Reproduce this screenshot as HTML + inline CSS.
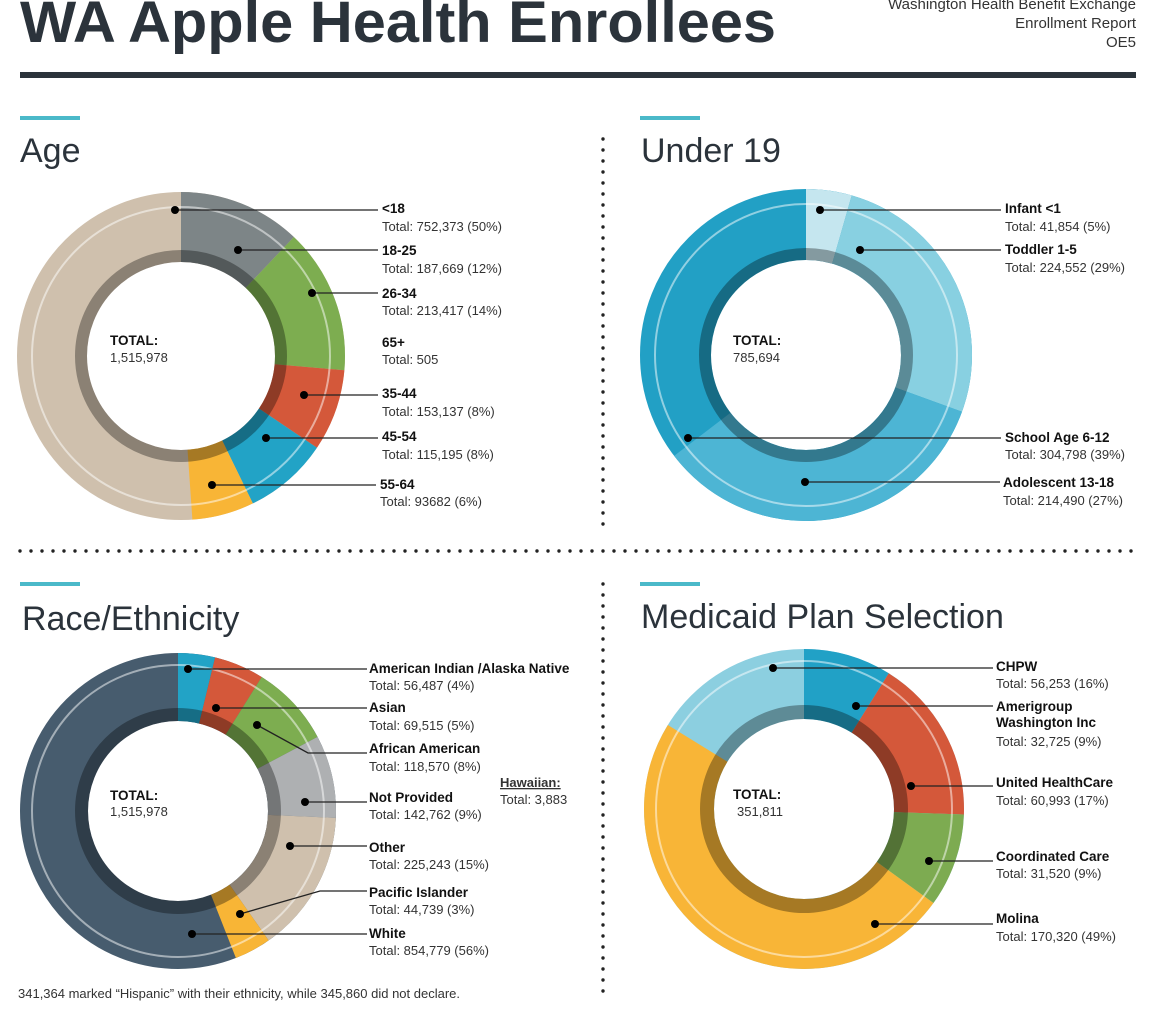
<!DOCTYPE html>
<html><head><meta charset="utf-8"><style>
html,body{margin:0;padding:0;background:#fff}
svg{display:block}
text{font-family:"Liberation Sans",sans-serif;fill:#222}
.b{font-weight:bold;font-size:13.5px;fill:#111}
.n{font-size:13px;fill:#333}
.t{font-size:34px;fill:#2b333b}
.ln{stroke:#222;stroke-width:1.3;fill:none}
.dot{stroke:#222;stroke-width:3.4;stroke-linecap:round;stroke-dasharray:0 11;fill:none}
</style></head><body>
<svg width="1152" height="1009" viewBox="0 0 1152 1009" xmlns="http://www.w3.org/2000/svg">
<!-- header -->
<text x="20" y="42" font-size="58" font-weight="bold" style="fill:#2b333b" textLength="756" lengthAdjust="spacingAndGlyphs">WA Apple Health Enrollees</text>
<text x="1136" y="9" text-anchor="end" font-size="15" style="fill:#333">Washington Health Benefit Exchange</text>
<text x="1136" y="28" text-anchor="end" font-size="15" style="fill:#333">Enrollment Report</text>
<text x="1136" y="47" text-anchor="end" font-size="15" style="fill:#333">OE5</text>
<rect x="20" y="72" width="1116" height="6" fill="#2b333b"/>
<!-- accents -->
<rect x="20" y="116" width="60" height="4" fill="#4bb9c9"/>
<rect x="640" y="116" width="60" height="4" fill="#4bb9c9"/>
<rect x="20" y="582" width="60" height="4" fill="#4bb9c9"/>
<rect x="640" y="582" width="60" height="4" fill="#4bb9c9"/>
<text x="20" y="162" class="t">Age</text>
<text x="641" y="162" class="t">Under 19</text>
<text x="22" y="630" class="t">Race/Ethnicity</text>
<text x="641" y="628" class="t">Medicaid Plan Selection</text>
<!-- dotted separators -->
<path class="dot" d="M603 139V530"/>
<path class="dot" d="M603 584V1000"/>
<path class="dot" d="M20 551H1138"/>

<!-- AGE donut -->
<g transform="rotate(-90 181 356)" fill="none" stroke-width="70">
<circle cx="181" cy="356" r="129" pathLength="360" stroke="#cfc0ad"/>
<circle cx="181" cy="356" r="129" pathLength="360" stroke="#7d8587" stroke-dasharray="43.5 400"/>
<circle cx="181" cy="356" r="129" pathLength="360" stroke="#7dad50" stroke-dasharray="51.5 400" stroke-dashoffset="-43.5"/>
<circle cx="181" cy="356" r="129" pathLength="360" stroke="#d4583a" stroke-dasharray="29 400" stroke-dashoffset="-95"/>
<circle cx="181" cy="356" r="129" pathLength="360" stroke="#22a3c6" stroke-dasharray="30 400" stroke-dashoffset="-124"/>
<circle cx="181" cy="356" r="129" pathLength="360" stroke="#f8b536" stroke-dasharray="22 400" stroke-dashoffset="-154"/>
</g>
<circle cx="181" cy="356" r="100" fill="none" stroke="#000" stroke-opacity="0.33" stroke-width="12"/>
<circle cx="181" cy="356" r="149" fill="none" stroke="#fff" stroke-opacity="0.5" stroke-width="2"/>
<text x="110" y="345" class="b">TOTAL:</text><text x="110" y="362" class="n">1,515,978</text>

<!-- UNDER19 donut -->
<g transform="rotate(-90 806 355)" fill="none" stroke-width="71">
<circle cx="806" cy="355" r="130.5" pathLength="360" stroke="#22a0c5"/>
<circle cx="806" cy="355" r="130.5" pathLength="360" stroke="#c5e6ef" stroke-dasharray="16 400"/>
<circle cx="806" cy="355" r="130.5" pathLength="360" stroke="#88d0e1" stroke-dasharray="94 400" stroke-dashoffset="-16"/>
<circle cx="806" cy="355" r="130.5" pathLength="360" stroke="#4db5d4" stroke-dasharray="122.6 400" stroke-dashoffset="-110"/>
</g>
<circle cx="806" cy="355" r="101" fill="none" stroke="#000" stroke-opacity="0.33" stroke-width="12"/>
<circle cx="806" cy="355" r="151" fill="none" stroke="#fff" stroke-opacity="0.5" stroke-width="2"/>
<text x="733" y="345" class="b">TOTAL:</text><text x="733" y="362" class="n">785,694</text>

<!-- RACE donut -->
<g transform="rotate(-90 178 811)" fill="none" stroke-width="68">
<circle cx="178" cy="811" r="124" pathLength="360" stroke="#475c6e"/>
<circle cx="178" cy="811" r="124" pathLength="360" stroke="#22a3c6" stroke-dasharray="13.6 400"/>
<circle cx="178" cy="811" r="124" pathLength="360" stroke="#d4583a" stroke-dasharray="18.4 400" stroke-dashoffset="-13.6"/>
<circle cx="178" cy="811" r="124" pathLength="360" stroke="#7dad50" stroke-dasharray="30 400" stroke-dashoffset="-32"/>
<circle cx="178" cy="811" r="124" pathLength="360" stroke="#aeb0b2" stroke-dasharray="30.5 400" stroke-dashoffset="-62"/>
<circle cx="178" cy="811" r="124" pathLength="360" stroke="#cfc0ad" stroke-dasharray="52.5 400" stroke-dashoffset="-92.5"/>
<circle cx="178" cy="811" r="124" pathLength="360" stroke="#f8b536" stroke-dasharray="13.5 400" stroke-dashoffset="-145"/>
</g>
<circle cx="178" cy="811" r="96.5" fill="none" stroke="#000" stroke-opacity="0.33" stroke-width="13"/>
<circle cx="178" cy="811" r="146" fill="none" stroke="#fff" stroke-opacity="0.5" stroke-width="2"/>
<text x="110" y="800" class="b">TOTAL:</text><text x="110" y="816" class="n">1,515,978</text>

<!-- MEDICAID donut -->
<g transform="rotate(-90 804 809)" fill="none" stroke-width="70">
<circle cx="804" cy="809" r="125" pathLength="360" stroke="#8ccfe0"/>
<circle cx="804" cy="809" r="125" pathLength="360" stroke="#21a1c6" stroke-dasharray="32 400"/>
<circle cx="804" cy="809" r="125" pathLength="360" stroke="#d4583a" stroke-dasharray="60 400" stroke-dashoffset="-32"/>
<circle cx="804" cy="809" r="125" pathLength="360" stroke="#7dab51" stroke-dasharray="34 400" stroke-dashoffset="-92"/>
<circle cx="804" cy="809" r="125" pathLength="360" stroke="#f8b537" stroke-dasharray="175.7 400" stroke-dashoffset="-126"/>
</g>
<circle cx="804" cy="809" r="97" fill="none" stroke="#000" stroke-opacity="0.33" stroke-width="14"/>
<circle cx="804" cy="809" r="148" fill="none" stroke="#fff" stroke-opacity="0.5" stroke-width="2"/>
<text x="733" y="799" class="b">TOTAL:</text><text x="737" y="816" class="n">351,811</text>

<!-- AGE labels -->
<g>
<path class="ln" d="M175 210H378M238 250H378M312 293H378M304 395H378M266 438H378M212 485H376"/>
<g fill="#000"><circle cx="175" cy="210" r="4"/><circle cx="238" cy="250" r="4"/><circle cx="312" cy="293" r="4"/><circle cx="304" cy="395" r="4"/><circle cx="266" cy="438" r="4"/><circle cx="212" cy="485" r="4"/></g>
<text x="382" y="213" class="b">&lt;18</text><text x="382" y="231" class="n">Total: 752,373 (50%)</text>
<text x="382" y="255" class="b">18-25</text><text x="382" y="273" class="n">Total: 187,669 (12%)</text>
<text x="382" y="298" class="b">26-34</text><text x="382" y="315" class="n">Total: 213,417 (14%)</text>
<text x="382" y="347" class="b">65+</text><text x="382" y="364" class="n">Total: 505</text>
<text x="382" y="398" class="b">35-44</text><text x="382" y="416" class="n">Total: 153,137 (8%)</text>
<text x="382" y="441" class="b">45-54</text><text x="382" y="459" class="n">Total: 115,195 (8%)</text>
<text x="380" y="489" class="b">55-64</text><text x="380" y="506" class="n">Total: 93682 (6%)</text>
</g>
<!-- UNDER19 labels -->
<g>
<path class="ln" d="M820 210H1001M860 250H1001M688 438H1001M805 482H1000"/>
<g fill="#000"><circle cx="820" cy="210" r="4"/><circle cx="860" cy="250" r="4"/><circle cx="688" cy="438" r="4"/><circle cx="805" cy="482" r="4"/></g>
<text x="1005" y="213" class="b">Infant &lt;1</text><text x="1005" y="231" class="n">Total: 41,854 (5%)</text>
<text x="1005" y="254" class="b">Toddler 1-5</text><text x="1005" y="272" class="n">Total: 224,552 (29%)</text>
<text x="1005" y="442" class="b">School Age 6-12</text><text x="1005" y="459" class="n">Total: 304,798 (39%)</text>
<text x="1003" y="487" class="b">Adolescent 13-18</text><text x="1003" y="505" class="n">Total: 214,490 (27%)</text>
</g>
<!-- RACE labels -->
<g>
<path class="ln" d="M188 669H367M216 708H367M257 725L308 753H367M305 802H367M290 846H367M240 914L320 891H367M192 934H367"/>
<g fill="#000"><circle cx="188" cy="669" r="4"/><circle cx="216" cy="708" r="4"/><circle cx="257" cy="725" r="4"/><circle cx="305" cy="802" r="4"/><circle cx="290" cy="846" r="4"/><circle cx="240" cy="914" r="4"/><circle cx="192" cy="934" r="4"/></g>
<text x="369" y="673" class="b">American Indian /Alaska Native</text><text x="369" y="690" class="n">Total: 56,487 (4%)</text>
<text x="369" y="712" class="b">Asian</text><text x="369" y="730" class="n">Total: 69,515 (5%)</text>
<text x="369" y="753" class="b">African American</text><text x="369" y="771" class="n">Total: 118,570 (8%)</text>
<text x="369" y="802" class="b">Not Provided</text><text x="369" y="819" class="n">Total: 142,762 (9%)</text>
<text x="369" y="852" class="b">Other</text><text x="369" y="869" class="n">Total: 225,243 (15%)</text>
<text x="369" y="897" class="b">Pacific Islander</text><text x="369" y="914" class="n">Total: 44,739 (3%)</text>
<text x="369" y="938" class="b">White</text><text x="369" y="955" class="n">Total: 854,779 (56%)</text>
<text x="500" y="787" class="b" text-decoration="underline" style="font-size:13px;fill:#333">Hawaiian:</text>
<text x="500" y="804" class="n">Total: 3,883</text>
</g>
<!-- MEDICAID labels -->
<g>
<path class="ln" d="M773 668H993M856 706H993M911 786H993M929 861H993M875 924H993"/>
<g fill="#000"><circle cx="773" cy="668" r="4"/><circle cx="856" cy="706" r="4"/><circle cx="911" cy="786" r="4"/><circle cx="929" cy="861" r="4"/><circle cx="875" cy="924" r="4"/></g>
<text x="996" y="671" class="b">CHPW</text><text x="996" y="688" class="n">Total:  56,253 (16%)</text>
<text x="996" y="711" class="b">Amerigroup</text><text x="996" y="727" class="b">Washington Inc</text><text x="996" y="746" class="n">Total:  32,725 (9%)</text>
<text x="996" y="787" class="b">United HealthCare</text><text x="996" y="805" class="n">Total: 60,993 (17%)</text>
<text x="996" y="861" class="b">Coordinated Care</text><text x="996" y="878" class="n">Total: 31,520 (9%)</text>
<text x="996" y="923" class="b">Molina</text><text x="996" y="941" class="n">Total: 170,320 (49%)</text>
</g>
<text x="18" y="998" class="n">341,364 marked “Hispanic” with their ethnicity, while 345,860 did not declare.</text>
</svg>
</body></html>
